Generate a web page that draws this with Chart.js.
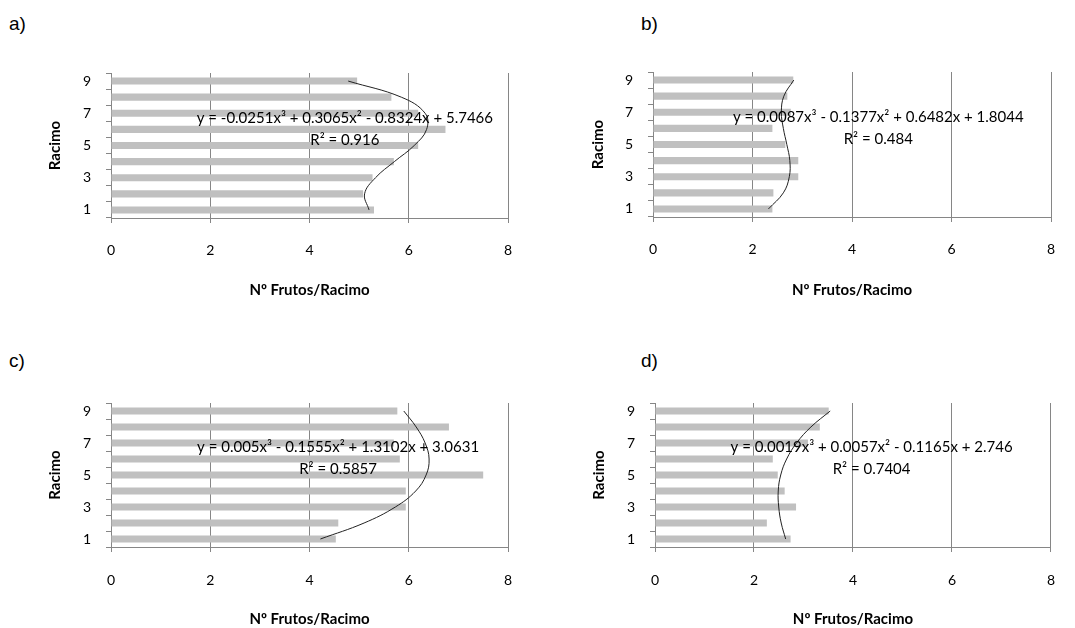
<!DOCTYPE html>
<html>
<head>
<meta charset="utf-8">
<script src="https://cdn.jsdelivr.net/npm/chart.js@4/dist/chart.umd.min.js"></script>
<style>
    body { margin: 0; background: #fff; width: 1075px; height: 628px; position: relative; overflow: hidden; }
    .panel { position: absolute; }
    .tag { position: absolute; font: 19px "Liberation Sans", Arial, sans-serif; line-height: 1; color: #000; }
</style>
</head>
<body>
<div class="tag" style="left:9px;top:14px">a)</div>
<div class="tag" style="left:641px;top:14px">b)</div>
<div class="tag" style="left:9px;top:351px">c)</div>
<div class="tag" style="left:641px;top:351px">d)</div>

<canvas id="chartA" class="panel" width="537" height="310" style="left:0;top:0"></canvas>
<canvas id="chartB" class="panel" width="538" height="310" style="left:537px;top:0"></canvas>
<canvas id="chartC" class="panel" width="537" height="318" style="left:0;top:310px"></canvas>
<canvas id="chartD" class="panel" width="538" height="318" style="left:537px;top:310px"></canvas>

<script>
// ============================================
// DATA
// ============================================

// Racimo number (category axis) and the x tick values
const racimos = ['1', '2', '3', '4', '5', '6', '7', '8', '9'];
const xTicks = [0, 2, 4, 6, 8];

// Nº frutos / racimo, one list per panel (racimo 1 -> 9)
const frutosA = [5.30, 5.08, 5.27, 5.70, 6.19, 6.74, 6.19, 5.65, 4.96];
const frutosB = [2.40, 2.42, 2.92, 2.92, 2.66, 2.40, 2.77, 2.70, 2.82];
const frutosC = [4.53, 4.58, 5.94, 5.94, 7.50, 5.82, 5.70, 6.81, 5.77];
const frutosD = [2.74, 2.26, 2.85, 2.62, 2.48, 2.38, 3.09, 3.33, 3.51];

// polynomial trendline, read at each racimo
const trendA = [5.20, 5.11, 5.33, 5.71, 6.11, 6.36, 6.33, 5.85, 4.78];
const trendB = [2.32, 2.62, 2.74, 2.75, 2.69, 2.62, 2.58, 2.63, 2.83];
const trendC = [4.22, 5.10, 5.73, 6.14, 6.35, 6.41, 6.33, 6.15, 5.90];
const trendD = [2.64, 2.55, 2.50, 2.49, 2.54, 2.66, 2.86, 3.15, 3.54];

// trendline labels
const eqA = 'y = -0.0251x³ + 0.3065x² - 0.8324x + 5.7466';
const eqB = 'y = 0.0087x³ - 0.1377x² + 0.6482x + 1.8044';
const eqC = 'y = 0.005x³ - 0.1555x² + 1.3102x + 3.0631';
const eqD = 'y = 0.0019x³ + 0.0057x² - 0.1165x + 2.746';
const r2A = 'R² = 0.916';
const r2B = 'R² = 0.484';
const r2C = 'R² = 0.5857';
const r2D = 'R² = 0.7404';

// ============================================
// STYLE
// ============================================
const FONT = 'Lato, "Open Sans", sans-serif';
const GRID = '#868686';
const BAR = '#c0c0c0';

// draws the equation and R² text inside the plot area
const trendLabel = {
    id: 'trendLabel',
    afterDatasetsDraw(chart, args, opts) {
        const { ctx, chartArea: a } = chart;
        const x = a.left + opts.fx * (a.right - a.left);
        ctx.save();
        ctx.font = '15px ' + FONT;
        ctx.fillStyle = '#000';
        ctx.textAlign = 'center';
        ctx.textBaseline = 'middle';
        ctx.fillText(opts.eq, x, a.top + opts.fy1 * (a.bottom - a.top));
        ctx.fillText(opts.r2, x, a.top + opts.fy2 * (a.bottom - a.top));
        ctx.restore();
    }
};

/**
 * Build one panel
 * L holds the plot box (pixels inside the canvas) and text offsets
 */
function makePanel(id, frutos, trend, eq, r2, L) {
    const canvas = document.getElementById(id);
    const W = canvas.width, H = canvas.height;

    return new Chart(canvas, {
        data: {
            labels: racimos,
            datasets: [
                {
                    type: 'line',
                    data: trend,
                    borderColor: '#222',
                    borderWidth: 1,
                    pointRadius: 0,
                    tension: 0.4,
                    order: 0
                },
                {
                    type: 'bar',
                    data: frutos,
                    backgroundColor: BAR,
                    categoryPercentage: 1,
                    barPercentage: 0.44,
                    order: 1
                }
            ]
        },
        options: {
            indexAxis: 'y',
            responsive: false,
            animation: false,
            events: [],
            layout: {
                padding: { left: 0, top: L.top, right: W - L.right, bottom: 0 }
            },
            plugins: {
                legend: { display: false },
                tooltip: { enabled: false },
                trendLabel: { eq, r2, fx: L.fx, fy1: 0.31, fy2: 0.46 }
            },
            scales: {
                x: {
                    type: 'linear',
                    min: 0,
                    max: 8,
                    afterBuildTicks: s => { s.ticks = xTicks.map(v => ({ value: v })); },
                    afterFit: s => { s.height = H - L.bottom; },
                    grid: { color: GRID, tickLength: 5, drawTicks: true },
                    border: { color: GRID },
                    ticks: {
                        padding: L.xPad,
                        color: '#000',
                        font: { family: FONT, size: 14 },
                        maxRotation: 0
                    },
                    title: {
                        display: true,
                        text: 'Nº Frutos/Racimo',
                        color: '#000',
                        font: { family: FONT, size: 15, weight: 'bold' },
                        padding: { top: 0, bottom: L.xTitlePad }
                    }
                },
                y: {
                    type: 'category',
                    reverse: true,
                    offset: true,
                    afterFit: s => { s.width = L.left; },
                    grid: { drawOnChartArea: false, drawTicks: true, tickLength: 5, color: GRID, offset: true },
                    border: { color: GRID },
                    ticks: {
                        autoSkip: false,
                        padding: L.yPad,
                        color: '#000',
                        font: { family: FONT, size: 14 },
                        callback: (v, i) => (i % 2 === 0 ? racimos[i] : '')
                    },
                    title: {
                        display: true,
                        text: 'Racimo',
                        color: '#000',
                        font: { family: FONT, size: 15, weight: 'bold' },
                        padding: { top: L.yTitlePad, bottom: 0 }
                    }
                }
            }
        },
        plugins: [trendLabel]
    });
}

document.addEventListener('DOMContentLoaded', () => {
    makePanel('chartA', frutosA, trendA, eqA, r2A,
        { left: 111, right: 508, top: 73, bottom: 218, xPad: 19, xTitlePad: 11, yPad: 15, yTitlePad: 46, fx: 0.589 });
    makePanel('chartB', frutosB, trendB, eqB, r2B,
        { left: 116, right: 514, top: 72, bottom: 217, xPad: 19, xTitlePad: 11, yPad: 15, yTitlePad: 52, fx: 0.566 });
    makePanel('chartC', frutosC, trendC, eqC, r2C,
        { left: 111, right: 508, top: 93, bottom: 237, xPad: 20, xTitlePad: 0, yPad: 15, yTitlePad: 46, fx: 0.572 });
    makePanel('chartD', frutosD, trendD, eqD, r2D,
        { left: 118, right: 515, top: 93, bottom: 237, xPad: 20, xTitlePad: 0, yPad: 15, yTitlePad: 53, fx: 0.547 });
});
</script>
</body>
</html>
